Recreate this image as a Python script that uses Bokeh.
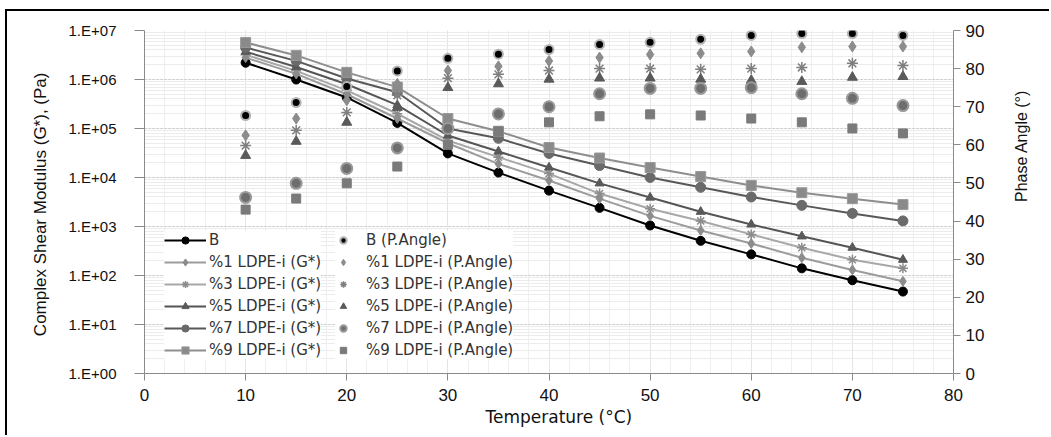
import math
from bokeh.plotting import figure
from bokeh.models import (Range1d, LinearAxis, LogAxis, FixedTicker, LogTicker, Legend, LegendItem,
                          CustomJSTickFormatter, Title, LogScale, LinearScale, Grid)
from bokeh.embed import file_html
from bokeh.resources import INLINE

# ---------------- data ----------------
temperature = [10, 15, 20, 25, 30, 35, 40, 45, 50, 55, 60, 65, 70, 75]

g_B  = [2.2e6, 1.0e6, 4.3e5, 1.3e5, 3.1e4, 1.26e4, 5.4e3, 2.4e3, 1.05e3, 5.1e2, 2.7e2, 1.4e2, 80, 47]
g_1  = [2.8e6, 1.3e6, 5.0e5, 1.6e5, 5.0e4, 1.9e4, 8.7e3, 3.7e3, 1.65e3, 8.3e2, 4.5e2, 2.3e2, 1.3e2, 76]
g_3  = [3.2e6, 1.5e6, 6.0e5, 2.0e5, 5.7e4, 2.6e4, 1.2e4, 4.7e3, 2.3e3, 1.3e3, 6.9e2, 3.7e2, 2.1e2, 1.4e2]
g_5  = [3.7e6, 1.8e6, 8.0e5, 3.0e5, 7.2e4, 3.4e4, 1.6e4, 7.6e3, 3.9e3, 2.0e3, 1.1e3, 6.3e2, 3.7e2, 2.1e2]
g_7  = [4.5e6, 2.4e6, 1.05e6, 5.5e5, 1.0e5, 6.3e4, 3.1e4, 1.75e4, 1.0e4, 6.3e3, 4.0e3, 2.7e3, 1.85e3, 1.3e3]
g_9  = [5.7e6, 3.1e6, 1.4e6, 7.0e5, 1.6e5, 8.8e4, 4.1e4, 2.5e4, 1.6e4, 1.05e4, 6.9e3, 4.9e3, 3.7e3, 2.8e3]

pa_B = [67.7, 71.1, 75.3, 79.4, 82.7, 83.8, 85.0, 86.3, 86.9, 87.7, 88.7, 89.2, 89.2, 88.7]
pa_1 = [62.5, 66.9, 71.7, 76.0, 79.5, 80.6, 82.0, 82.9, 83.7, 84.0, 84.5, 85.6, 85.8, 85.8]
pa_3 = [59.8, 63.8, 68.5, 73.0, 77.5, 78.5, 79.5, 80.0, 80.0, 79.8, 80.0, 80.3, 81.4, 80.8]
pa_5 = [57.2, 60.9, 65.9, 69.8, 75.0, 76.0, 77.2, 77.5, 77.5, 77.2, 76.9, 76.6, 77.7, 77.9]
pa_7 = [46.2, 49.9, 53.8, 59.2, 64.3, 68.1, 70.0, 73.4, 74.8, 74.8, 75.0, 73.4, 72.2, 70.3]
pa_9 = [43.0, 45.9, 49.9, 54.3, 60.0, 63.5, 65.9, 67.5, 68.0, 67.7, 66.9, 65.9, 64.3, 63.0]

g_labels = ["B", "%1 LDPE-i (G*)", "%3 LDPE-i (G*)", "%5 LDPE-i (G*)", "%7 LDPE-i (G*)", "%9 LDPE-i (G*)"]
pa_labels = ["B (P.Angle)", "%1 LDPE-i (P.Angle)", "%3 LDPE-i (P.Angle)", "%5 LDPE-i (P.Angle)",
             "%7 LDPE-i (P.Angle)", "%9 LDPE-i (P.Angle)"]
x_ticks = [0, 10, 20, 30, 40, 50, 60, 70, 80]
pa_ticks = [0, 10, 20, 30, 40, 50, 60, 70, 80, 90]

# ---------------- figure ----------------
p = figure(width=1044, height=426, output_backend="svg", toolbar_location=None,
           x_range=Range1d(0, 80), y_range=Range1d(1, 1e7), y_axis_type=None,
           min_border_left=137, min_border_right=98, min_border_top=19, min_border_bottom=64)
p.styles = {"margin-left": "5px", "margin-top": "9px",
            "border-top": "2px solid black", "border-left": "2px solid black"}
p.outline_line_color = None
p.y_scale = LogScale()
p.extra_y_ranges = {"pa": Range1d(0, 90)}
p.extra_y_scales = {"pa": LinearScale()}

tick_font = "Liberation Sans"
axis_col = "#8a8a8a"
text_col = "#111111"

yaxis = LogAxis(ticker=LogTicker(num_minor_ticks=10),
                formatter=CustomJSTickFormatter(code="""
                    const e = Math.round(Math.log10(tick));
                    return "1.E" + (e < 0 ? "-" : "+") + String(Math.abs(e)).padStart(2, "0");"""),
                axis_label="Complex Shear Modulus  (G*), (Pa)")
p.add_layout(yaxis, "left")
yaxis.major_label_text_font = tick_font
yaxis.major_label_text_font_size = "15px"
yaxis.major_label_text_color = text_col
yaxis.major_tick_out = 10
yaxis.major_tick_in = 0
yaxis.minor_tick_out = 0
yaxis.minor_tick_in = 0
yaxis.major_label_standoff = 18
yaxis.axis_label_text_font = tick_font
yaxis.axis_label_text_font_size = "17px"
yaxis.axis_label_text_font_style = "normal"
yaxis.axis_label_text_color = text_col
yaxis.axis_label_standoff = 16
yaxis.axis_line_color = axis_col
yaxis.major_tick_line_color = axis_col

raxis = LinearAxis(y_range_name="pa", ticker=FixedTicker(ticks=pa_ticks),
                   axis_label="Phase Angle (°)")
p.add_layout(raxis, "right")
raxis.major_label_text_font = tick_font
raxis.major_label_text_font_size = "17px"
raxis.major_label_text_color = text_col
raxis.major_tick_out = 7
raxis.major_tick_in = 0
raxis.minor_tick_out = 0
raxis.minor_tick_in = 0
raxis.major_label_standoff = 5
raxis.axis_label_text_font = tick_font
raxis.axis_label_text_font_size = "16px"
raxis.axis_label_text_font_style = "normal"
raxis.axis_label_text_color = text_col
raxis.axis_label_orientation = math.pi / 2
raxis.axis_label_text_align = "center"
raxis.axis_label_standoff = 34
raxis.axis_line_color = axis_col
raxis.major_tick_line_color = axis_col

xa = p.xaxis[0]
xa.ticker = FixedTicker(ticks=x_ticks, minor_ticks=list(range(0, 81, 2)))
xa.major_label_text_font = tick_font
xa.major_label_text_font_size = "17px"
xa.major_label_text_color = text_col
xa.major_tick_out = 7
xa.major_tick_in = 0
xa.minor_tick_out = 0
xa.minor_tick_in = 0
xa.major_label_standoff = 8
xa.axis_line_color = axis_col
xa.major_tick_line_color = axis_col

xt = Title(text="Temperature (°C)", align="left", offset=341, text_font="DejaVu Sans",
           text_font_size="17px", text_font_style="normal", text_color=text_col, standoff=2)
p.add_layout(xt, "below")

# grids
p.xgrid.grid_line_color = "#e4e4e4"
p.xgrid.minor_grid_line_color = "#efefef"
p.ygrid.grid_line_color = None
yg = Grid(dimension=1, ticker=yaxis.ticker, grid_line_color="#c8c8c8", grid_line_dash="2 2",
          minor_grid_line_color="#ececec")
p.add_layout(yg)

# ---------------- G* series ----------------
g_series = [g_B, g_1, g_3, g_5, g_7, g_9]
g_line_col = ["#000000", "#9c9c9c", "#a8a8a8", "#555555", "#585858", "#8e8e8e"]
g_mark_col = ["#000000", "#8c8c8c", "#8c8c8c", "#595959", "#6a6a6a", "#8a8a8a"]
g_marker = ["circle", "diamond", "asterisk", "triangle", "circle", "square"]
g_size = [9, 10, 10, 9, 10, 10]

g_items = []
for ys, lc, mc, mk, sz, lab in zip(g_series, g_line_col, g_mark_col, g_marker, g_size, g_labels):
    ln = p.line(temperature, ys, line_color=lc, line_width=2)
    if mk == "asterisk":
        sc = p.scatter(temperature, ys, marker=mk, size=sz, line_color=mc, line_width=1.5,
                       fill_color=None)
    else:
        sc = p.scatter(temperature, ys, marker=mk, size=sz, fill_color=mc,
                       line_color="#9a9a9a" if mk == "square" else mc, line_width=1)
    g_items.append(LegendItem(label=lab, renderers=[ln, sc]))

# ---------------- phase angle series ----------------
pa_series = [pa_B, pa_1, pa_3, pa_5, pa_7, pa_9]
pa_col = ["#000000", "#8c8c8c", "#7f7f7f", "#5a5a5a", "#6e6e6e", "#7a7a7a"]
pa_line = ["#b4b4b4", "#8c8c8c", "#7f7f7f", "#5a5a5a", "#9a9a9a", "#7a7a7a"]
pa_marker = ["circle", "diamond", "asterisk", "triangle", "circle", "square"]
pa_size = [9, 11, 11, 10, 11, 9]
pa_lw = [2, 1, 1.5, 1, 2, 1]

pa_items = []
for ys, c, lcol, mk, sz, lw, lab in zip(pa_series, pa_col, pa_line, pa_marker, pa_size, pa_lw, pa_labels):
    if mk == "asterisk":
        sc = p.scatter(temperature, ys, marker=mk, size=sz, line_color=c, line_width=lw,
                       fill_color=None, y_range_name="pa")
    else:
        sc = p.scatter(temperature, ys, marker=mk, size=sz, fill_color=c, line_color=lcol,
                       line_width=lw, y_range_name="pa")
    pa_items.append(LegendItem(label=lab, renderers=[sc]))

leg_font = "DejaVu Sans"
leg1 = Legend(items=g_items, location=(20, 14), glyph_width=42, glyph_height=18, label_height=18,
              spacing=4, padding=4, margin=0, label_standoff=3, border_line_color=None,
              background_fill_color="white", background_fill_alpha=1.0,
              label_text_font=leg_font, label_text_font_size="15px", label_text_color="#333333")
leg2 = Legend(items=pa_items, location=(191, 14), glyph_width=16, glyph_height=18, label_height=18,
              spacing=4, padding=4, margin=0, label_standoff=15, border_line_color=None,
              background_fill_color="white", background_fill_alpha=1.0,
              label_text_font=leg_font, label_text_font_size="15px", label_text_color="#333333")
p.add_layout(leg1)
p.add_layout(leg2)

open("out.html", "w").write(file_html(p, INLINE))
